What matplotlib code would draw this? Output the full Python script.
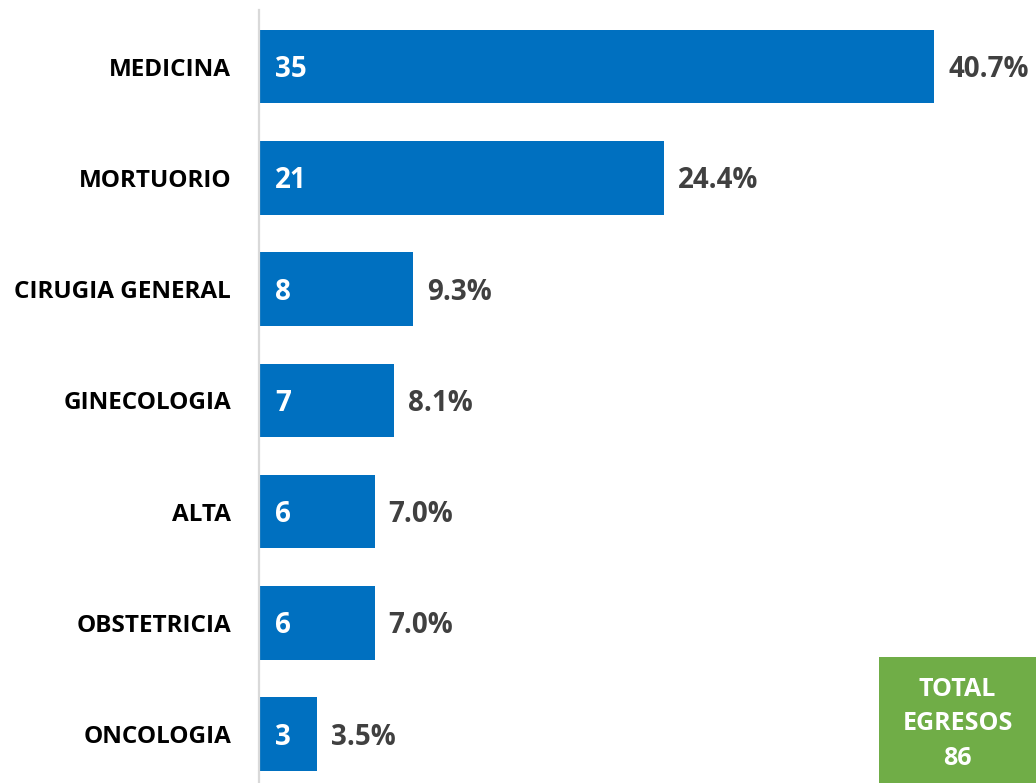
import matplotlib
matplotlib.use("Agg")
import matplotlib.pyplot as plt
from matplotlib.patches import Rectangle
from matplotlib.transforms import offset_copy

categories = ["MEDICINA", "MORTUORIO", "CIRUGIA GENERAL", "GINECOLOGIA", "ALTA", "OBSTETRICIA", "ONCOLOGIA"]
counts = [35, 21, 8, 7, 6, 6, 3]
percents = ["40.7%", "24.4%", "9.3%", "8.1%", "7.0%", "7.0%", "3.5%"]
total_label = "TOTAL\nEGRESOS\n86"

FONT = ["Open Sans", "DejaVu Sans"]
plt.rcParams["font.family"] = FONT

W, H = 1036, 783
fig = plt.figure(figsize=(W / 100, H / 100), dpi=100)
ax_left = 259 / W
ax = fig.add_axes([ax_left, 0.0, 1 - ax_left, 1 - 10 / H])

y = list(range(len(categories)))
ax.barh(y, counts, height=0.66, color="#0070C0", zorder=2)
ax.set_xlim(0, (W - 259) / 19.29)
ax.set_ylim(6.44, -0.51)

for s in ["top", "right", "bottom"]:
    ax.spines[s].set_visible(False)
ax.spines["left"].set_color("#D9D9D9")
ax.spines["left"].set_linewidth(1.6)
ax.set_xticks([])
ax.set_yticks(y)
ax.set_yticklabels(categories, fontsize=17.5, fontweight="bold", color="black")
ax.tick_params(axis="y", length=0, pad=20)

for yi, c, p in zip(y, counts, percents):
    t_in = offset_copy(ax.transData, fig=fig, x=16, y=-3, units="dots")
    ax.text(0, yi, str(c), transform=t_in, ha="left", va="center",
            fontsize=20, fontweight="bold", color="white", zorder=3)
    t_out = offset_copy(ax.transData, fig=fig, x=14, y=-3, units="dots")
    ax.text(c, yi, p, transform=t_out, ha="left", va="center",
            fontsize=20, fontweight="bold", color="#404040", zorder=3, clip_on=False)

bx0, by0 = 879 / W, 0.0
bw, bh = (W - 879) / W, (H - 657) / H
fig.patches.append(Rectangle((bx0, by0), bw, bh, transform=fig.transFigure,
                             facecolor="#70AD47", edgecolor="none", zorder=5))
fig.text(bx0 + bw / 2, by0 + bh / 2 - 4 / H, total_label, ha="center", va="center",
         fontsize=18, fontweight="bold", color="white", linespacing=1.5, zorder=6)

fig.savefig("out.png", dpi=100)
